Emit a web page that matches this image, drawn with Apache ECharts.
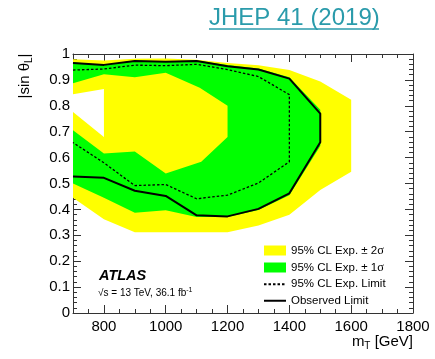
<!DOCTYPE html>
<html>
<head>
<meta charset="utf-8">
<script src="https://cdn.jsdelivr.net/npm/echarts@6/dist/echarts.min.js"></script>
<style>
  html, body { margin: 0; padding: 0; background: #fff; }
  #chart { width: 435px; height: 359px; }
</style>
</head>
<body>
<div id="chart"></div>
<script>
// Exclusion contours in the (mT, |sin thetaL|) plane, as [mT (GeV), |sin thetaL|] vertices.
const band2SigmaOuter = [
  [700, 0.980], [800, 0.975], [900, 0.982], [1000, 0.983], [1100, 0.978], [1200, 0.965],
  [1300, 0.957], [1400, 0.938], [1500, 0.894], [1600, 0.823], [1600, 0.545], [1500, 0.475],
  [1400, 0.379], [1300, 0.338], [1200, 0.312], [1100, 0.312], [1000, 0.312], [900, 0.312],
  [800, 0.362], [700, 0.445]
];
const band1SigmaOuter = [
  [700, 0.968], [800, 0.958], [900, 0.975], [1000, 0.972], [1100, 0.975], [1200, 0.958],
  [1300, 0.944], [1400, 0.910], [1500, 0.785], [1500, 0.645], [1400, 0.455], [1300, 0.398],
  [1200, 0.371], [1100, 0.371], [1000, 0.397], [900, 0.387], [800, 0.445], [700, 0.500]
];
const band1SigmaInner = [
  [700, 0.887], [800, 0.922], [900, 0.910], [1000, 0.928], [1110, 0.870], [1200, 0.800],
  [1200, 0.680], [1115, 0.584], [1000, 0.539], [900, 0.624], [800, 0.616], [700, 0.706]
];
const band2SigmaInner = [
  [700, 0.845], [800, 0.865], [800, 0.680], [700, 0.776]
];
const expectedLimit = [
  [700, 0.938], [800, 0.942], [900, 0.957], [1000, 0.955], [1100, 0.960], [1200, 0.940],
  [1300, 0.913], [1400, 0.843], [1400, 0.584], [1300, 0.502], [1200, 0.455], [1100, 0.441],
  [1000, 0.496], [900, 0.492], [800, 0.580], [700, 0.658]
];
const observedLimit = [
  [700, 0.965], [800, 0.958], [900, 0.973], [1000, 0.970], [1100, 0.973], [1200, 0.953],
  [1300, 0.940], [1400, 0.905], [1500, 0.770], [1500, 0.659], [1400, 0.462], [1300, 0.402],
  [1200, 0.373], [1100, 0.377], [1000, 0.452], [900, 0.472], [800, 0.522], [700, 0.527]
];
const xMajorTicks = [800, 1000, 1200, 1400, 1600, 1800];
const legendNames = ['95% CL Exp. ± 2σ', '95% CL Exp. ± 1σ', '95% CL Exp. Limit', 'Observed Limit'];

const FONT = 'Liberation Sans, Arial, Helvetica, sans-serif';
const YELLOW = '#ffff00';
const GREEN = '#00ff00';

// Filled region drawn as one polygon through the axis scales
function polygonSeries(name, pts, color) {
  return {
    type: 'custom',
    name: name,
    xAxisIndex: 0,
    yAxisIndex: 0,
    clip: true,
    silent: true,
    itemStyle: { color: color },
    data: pts,
    encode: { x: 0, y: 1 },
    renderItem: function (params, api) {
      if (params.dataIndex !== 0) return null;
      const points = pts.map(function (p) { return api.coord(p); });
      return { type: 'polygon', shape: { points: points }, style: { fill: color, stroke: null } };
    },
    z: 1
  };
}

function xAxisLayer(position, longTicks, withLabels, showLine) {
  const ax = {
    type: 'value', gridIndex: 0, position: position, min: 700, max: 1800, interval: 50,
    axisLine: { show: showLine, onZero: false, lineStyle: { color: '#333', width: 1 } },
    splitLine: { show: false },
    axisTick: { show: true, inside: true, length: longTicks ? 8 : 4, lineStyle: { color: '#333', width: 1 } },
    axisLabel: { show: false }
  };
  if (longTicks) ax.axisTick.customValues = xMajorTicks;
  if (withLabels) {
    ax.axisLabel = {
      show: true, customValues: xMajorTicks, margin: 6, fontSize: 15, color: '#000', fontFamily: FONT,
      formatter: function (v) { return String(v); }
    };
  }
  return ax;
}

function yAxisLayer(position, withLabels) {
  return {
    type: 'value', gridIndex: 0, position: position, min: 0, max: 1, interval: 0.1,
    axisLine: { show: true, onZero: false, lineStyle: { color: '#333', width: 1 } },
    splitLine: { show: false },
    axisTick: { show: true, inside: true, length: 8, lineStyle: { color: '#333', width: 1 } },
    minorTick: { show: true, splitNumber: 5, length: 4, lineStyle: { color: '#333', width: 1 } },
    axisLabel: withLabels
      ? { show: true, margin: 3, fontSize: 15, color: '#000', fontFamily: FONT }
      : { show: false }
  };
}

const chart = echarts.init(document.getElementById('chart'), null, { renderer: 'canvas' });

chart.setOption({
  animation: false,
  backgroundColor: '#fff',
  grid: { left: 73, right: 22, top: 54, bottom: 46, outerBoundsMode: 'none' },
  xAxis: [
    xAxisLayer('bottom', false, true, true),
    xAxisLayer('bottom', true, false, false),
    xAxisLayer('top', false, false, true),
    xAxisLayer('top', true, false, false)
  ],
  yAxis: [
    yAxisLayer('left', true),
    yAxisLayer('right', false)
  ],
  legend: {
    orient: 'vertical',
    left: 258,
    top: 239,
    itemWidth: 22,
    itemHeight: 10,
    itemGap: 4,
    selectedMode: false,
    textStyle: {
      fontFamily: FONT, fontSize: 11.5, color: '#000', lineHeight: 12.5,
      rich: {
        g: { fontFamily: 'Liberation Serif, DejaVu Serif, serif', fontSize: 12.5, color: '#000' }
      }
    },
    formatter: function (name) { return name.replace('σ', '{g|σ}'); },
    data: [
      { name: legendNames[0], icon: 'rect' },
      { name: legendNames[1], icon: 'rect' },
      { name: legendNames[2], itemStyle: { opacity: 0 } },
      { name: legendNames[3], itemStyle: { opacity: 0 } }
    ]
  },
  series: [
    polygonSeries(legendNames[0], band2SigmaOuter, YELLOW),
    polygonSeries(legendNames[1], band1SigmaOuter, GREEN),
    polygonSeries('inner1', band1SigmaInner, YELLOW),
    polygonSeries('inner2', band2SigmaInner, '#ffffff'),
    {
      type: 'line', name: legendNames[2], data: expectedLimit,
      xAxisIndex: 0, yAxisIndex: 0, symbol: 'none', silent: true, z: 3,
      itemStyle: { color: '#000', opacity: 0 },
      lineStyle: { color: '#000', width: 1.3, type: [2.5, 2] }
    },
    {
      type: 'line', name: legendNames[3], data: observedLimit,
      xAxisIndex: 0, yAxisIndex: 0, symbol: 'none', silent: true, z: 4,
      itemStyle: { color: '#000', opacity: 0 },
      lineStyle: { color: '#000', width: 2 }
    }
  ],
  graphic: [
    {
      type: 'text', x: 209, y: 18, z: 10,
      style: { text: 'JHEP 41 (2019)', fontFamily: FONT, fontSize: 24, fill: '#2a9bab', verticalAlign: 'middle', align: 'left' }
    },
    {
      type: 'line', z: 10,
      shape: { x1: 209, y1: 29, x2: 379, y2: 29 },
      style: { stroke: '#2a9bab', lineWidth: 1.5 }
    },
    {
      type: 'text', x: 25, y: 76, rotation: Math.PI / 2, z: 10,
      style: {
        text: '{m||sin θ}{s|L}{m||}', align: 'center', verticalAlign: 'middle',
        rich: {
          m: { fontFamily: FONT, fontSize: 15, fill: '#000', lineHeight: 18 },
          s: { fontFamily: FONT, fontSize: 10, fill: '#000', verticalAlign: 'bottom', lineHeight: 18 }
        }
      }
    },
    {
      type: 'text', x: 413, y: 342, z: 10,
      style: {
        text: '{m|m}{s|T}{m| [GeV]}', align: 'right', verticalAlign: 'middle',
        rich: {
          m: { fontFamily: FONT, fontSize: 15, fill: '#000', lineHeight: 18 },
          s: { fontFamily: FONT, fontSize: 10, fill: '#000', verticalAlign: 'bottom', lineHeight: 18 }
        }
      }
    },
    {
      type: 'text', x: 99, y: 276, z: 10,
      style: { text: 'ATLAS', fontFamily: FONT, fontSize: 14.5, fontWeight: 'bold', fontStyle: 'italic', fill: '#000', verticalAlign: 'middle' }
    },
    {
      type: 'text', x: 98, y: 293, z: 10,
      style: {
        text: '{m|√s = 13 TeV, 36.1 fb}{u|-1}', verticalAlign: 'middle',
        rich: {
          m: { fontFamily: FONT, fontSize: 10, fill: '#000', lineHeight: 12 },
          u: { fontFamily: FONT, fontSize: 7, fill: '#000', verticalAlign: 'top', lineHeight: 12 }
        }
      }
    }
  ]
});
</script>
</body>
</html>
